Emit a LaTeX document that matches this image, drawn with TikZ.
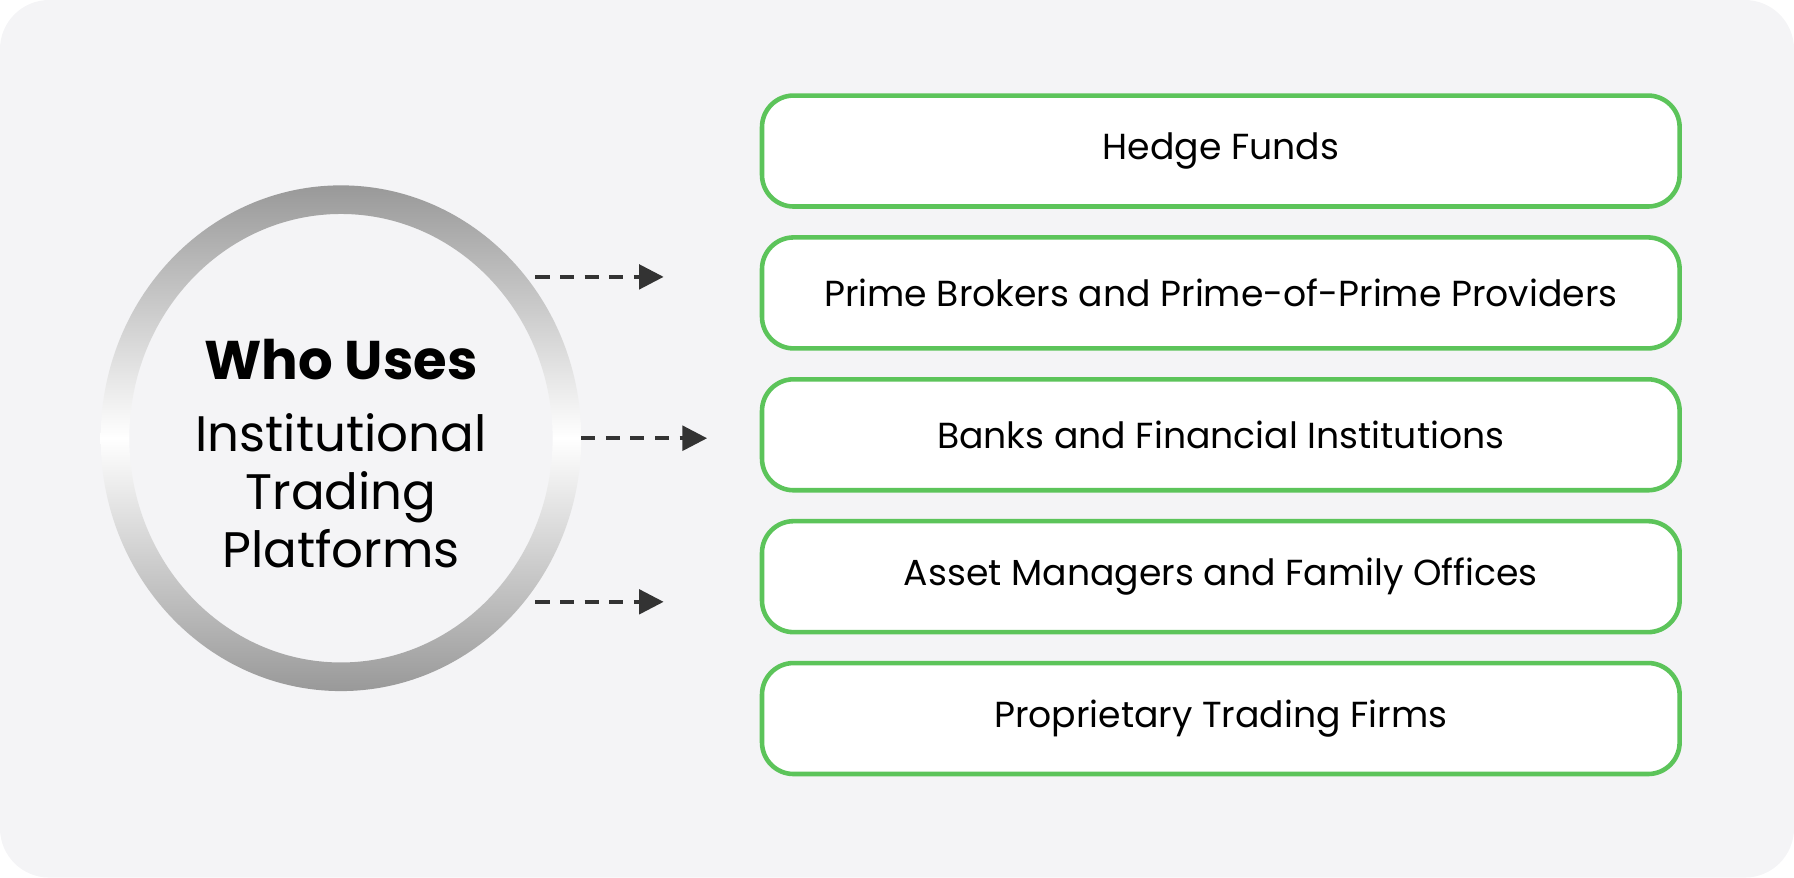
\documentclass[tikz,border=0pt]{standalone}
\usepackage{fontspec}
\setmainfont{Poppins}
\usetikzlibrary{positioning,arrows.meta}
\definecolor{bgcol}{HTML}{F4F4F6}
\definecolor{boxgreen}{HTML}{5CC45A}
\definecolor{arrcol}{HTML}{333333}
\begin{document}
\begin{tikzpicture}[x=0.01144cm,y=-0.01144cm,
  item node/.style={shape=rectangle,rounded corners=9pt,draw=boxgreen,line width=1.3pt,fill=white,minimum width=802*0.01144cm,minimum height=97*0.01144cm,font=\fontsize{10.3}{13}\selectfont},
  flow arrow/.style={draw=arrcol,line width=1pt,dash pattern=on 4pt off 3pt,-{Triangle[length=7pt,width=7pt]}}, ]
		\fill[bgcol,rounded corners=14pt] (0,0) rectangle (1568,767);
		\useasboundingbox (0,0) rectangle (1568,767);
		%ring
		\shade[even odd rule,top color=black!40,bottom color=black!40,middle color=white]
		    (298,383) ellipse [x radius=210,y radius=221] (298,383) ellipse [x radius=185,y radius=196];
		\node[font=\bfseries\fontsize{15.5}{18}\selectfont] (who) at (298,314){Who Uses};
		\node[align=center,font=\fontsize{14.2}{16.6}\selectfont] (itp) at (298,429){Institutional\\Trading\\Platforms};
		%items
		\node[item node] (i1) at (1067,132){Hedge Funds};
		\node[item node] (i2) at (1067,256){Prime Brokers and Prime-of-Prime Providers};
		\node[item node] (i3) at (1067,380){Banks and Financial Institutions};
		\node[item node] (i4) at (1067,504){Asset Managers and Family Offices};
		\node[item node] (i5) at (1067,628){Proprietary Trading Firms};
		\coordinate (a1s) at (468,242); \coordinate (a1e) at (580,242);
		\coordinate (a2s) at (508,383); \coordinate (a2e) at (618,383);
		\coordinate (a3s) at (468,526); \coordinate (a3e) at (580,526);
		\draw[flow arrow] (a1s) -- (a1e);
		\draw[flow arrow] (a2s) -- (a2e);
		\draw[flow arrow] (a3s) -- (a3e);
\end{tikzpicture}
\end{document}
